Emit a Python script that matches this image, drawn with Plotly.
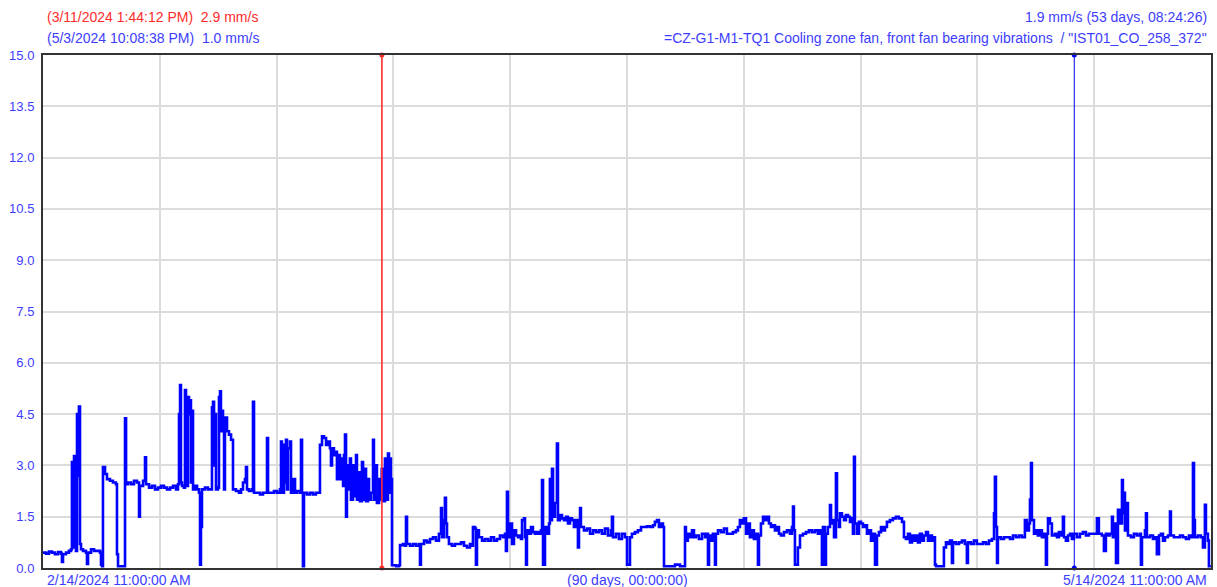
import pandas as pd
import plotly.graph_objects as go

# ---- data -------------------------------------------------------------
start_time = pd.Timestamp("2024-02-14 11:00:00")
span_days = 90
unit = "mm/s"
tag_text = '=CZ-G1-M1-TQ1 Cooling zone fan, front fan bearing vibrations\u00a0 / "IST01_CO_258_372"'

# elapsed time since start_time, in days
elapsed_days = [
    0.00, 0.23, 0.46, 0.69, 0.92, 1.16, 1.39, 1.46, 1.54, 1.77,
    2.00, 2.16, 2.23, 2.31, 2.39, 2.47, 2.54, 2.62, 2.70, 2.77,
    2.85, 2.93, 3.08, 3.31, 3.39, 3.47, 3.70, 3.93, 4.16, 4.39,
    4.47, 4.55, 4.62, 4.78, 4.93, 5.16, 5.39, 5.62, 5.70, 5.78,
    6.24, 6.32, 6.40, 6.55, 6.78, 7.01, 7.24, 7.40, 7.47, 7.71,
    7.86, 7.94, 8.17, 8.40, 8.63, 8.86, 9.09, 9.32, 9.55, 9.79,
    10.02, 10.25, 10.40, 10.48, 10.56, 10.63, 10.71, 10.86, 10.94, 11.02,
    11.17, 11.25, 11.33, 11.40, 11.48, 11.56, 11.71, 11.87, 12.02, 12.10,
    12.17, 12.25, 12.48, 12.71, 12.94, 13.02, 13.10, 13.18, 13.25, 13.33,
    13.48, 13.56, 13.64, 13.71, 13.79, 13.87, 13.95, 14.02, 14.18, 14.33,
    14.49, 14.64, 14.87, 15.10, 15.26, 15.41, 15.56, 15.64, 15.72, 15.87,
    16.10, 16.18, 16.26, 16.49, 16.72, 16.95, 17.18, 17.26, 17.34, 17.57,
    17.80, 18.03, 18.26, 18.34, 18.41, 18.57, 18.65, 18.72, 18.80, 18.88,
    19.03, 19.11, 19.26, 19.42, 19.57, 19.80, 19.88, 19.96, 20.03, 20.11,
    20.34, 20.57, 20.80, 21.03, 21.27, 21.34, 21.50, 21.65, 21.81, 21.96,
    22.11, 22.19, 22.27, 22.42, 22.58, 22.65, 22.73, 22.88, 22.96, 23.12,
    23.19, 23.27, 23.35, 23.42, 23.58, 23.65, 23.73, 23.89, 23.96, 24.12,
    24.19, 24.35, 24.42, 24.58, 24.66, 24.81, 24.89, 25.04, 25.12, 25.27,
    25.43, 25.50, 25.66, 25.73, 25.89, 25.97, 26.10, 26.20, 26.35, 26.43,
    26.58, 26.66, 26.74, 26.81, 26.89, 27.20, 27.43, 27.51, 27.74, 27.89,
    27.97, 28.05, 28.28, 28.51, 28.74, 28.97, 29.05, 29.12, 29.36, 29.59,
    29.82, 30.05, 30.28, 30.51, 30.67, 30.74, 30.90, 30.97, 31.05, 31.13,
    31.28, 31.51, 31.74, 31.98, 32.21, 32.44, 32.67, 32.90, 33.05, 33.13,
    33.29, 33.36, 33.44, 33.59, 33.83, 34.06, 34.29, 34.52, 34.75, 34.98,
    35.21, 35.44, 35.60, 35.67, 35.75, 35.83, 35.98, 36.14, 36.29, 36.45,
    36.60, 36.75, 36.83, 36.91, 37.06, 37.14, 37.22, 37.29, 37.45, 37.60,
    37.75, 37.91, 38.06, 38.22, 38.37, 38.45, 38.53, 38.68, 38.83, 38.99,
    39.06, 39.14, 39.22, 39.30, 39.45, 39.60, 39.68, 39.83, 39.99, 40.14,
    40.30, 40.45, 40.61, 40.76, 40.91, 41.07, 41.22, 41.30, 41.38, 41.45,
    41.68, 41.92, 42.15, 42.38, 42.61, 42.84, 43.07, 43.30, 43.53, 43.76,
    43.84, 43.92, 44.15, 44.38, 44.61, 44.84, 45.00, 45.15, 45.23, 45.38,
    45.61, 45.84, 46.08, 46.31, 46.54, 46.77, 47.00, 47.15, 47.31, 47.46,
    47.62, 47.77, 47.85, 48.31, 48.70, 49.08, 49.31, 49.47, 49.54, 49.69,
    49.85, 50.01, 50.16, 50.31, 50.54, 50.78, 51.01, 51.16, 51.24, 51.32,
    51.47, 51.62, 51.78, 51.85, 52.01, 52.24, 52.47, 52.70, 52.93, 53.16,
    53.40, 53.55, 53.70, 53.86, 54.01, 54.17, 54.32, 54.47, 54.63, 54.78,
    54.94, 55.09, 55.17, 55.32, 55.48, 55.63, 55.78, 55.94, 56.09, 56.25,
    56.40, 56.55, 56.71, 56.86, 57.09, 57.33, 57.56, 57.71, 57.79, 57.86,
    57.94, 58.10, 58.17, 58.33, 58.56, 58.79, 59.02, 59.25, 59.48, 59.71,
    59.87, 60.02, 60.10, 60.25, 60.33, 60.48, 60.64, 60.72, 60.87, 60.95,
    61.10, 61.18, 61.33, 61.41, 61.56, 61.72, 61.87, 62.03, 62.18, 62.33,
    62.41, 62.49, 62.56, 62.72, 62.87, 63.03, 63.18, 63.34, 63.49, 63.64,
    63.80, 63.95, 64.11, 64.26, 64.41, 64.57, 64.72, 64.88, 65.03, 65.26,
    65.49, 65.72, 65.95, 66.19, 66.34, 66.49, 66.65, 66.80, 66.96, 67.11,
    67.27, 67.42, 67.57, 67.73, 67.88, 68.04, 68.19, 68.34, 68.50, 68.65,
    68.73, 68.81, 69.27, 69.42, 69.58, 69.73, 69.89, 70.04, 70.12, 70.35,
    70.58, 70.81, 71.04, 71.19, 71.27, 71.50, 71.73, 71.96, 72.20, 72.43,
    72.66, 72.89, 73.12, 73.28, 73.35, 73.43, 73.51, 73.58, 73.81, 74.05,
    74.28, 74.51, 74.74, 74.97, 75.20, 75.43, 75.66, 75.82, 75.97, 76.05,
    76.13, 76.20, 76.36, 76.51, 76.66, 76.82, 76.97, 77.13, 77.28, 77.36,
    77.44, 77.59, 77.74, 77.97, 78.13, 78.28, 78.44, 78.59, 78.67, 78.82,
    78.98, 79.13, 79.28, 79.44, 79.67, 79.90, 80.13, 80.36, 80.59, 80.83,
    81.06, 81.21, 81.36, 81.59, 81.75, 81.90, 82.06, 82.21, 82.37, 82.44,
    82.60, 82.68, 82.83, 82.98, 83.14, 83.21, 83.29, 83.37, 83.52, 83.60,
    83.83, 84.06, 84.29, 84.52, 84.60, 84.68, 84.91, 84.99, 85.06, 85.30,
    85.53, 85.68, 85.83, 85.99, 86.14, 86.30, 86.45, 86.68, 86.84, 86.91,
    87.14, 87.37, 87.61, 87.84, 88.07, 88.30, 88.45, 88.61, 88.69, 88.76,
    88.99, 89.22, 89.38, 89.53, 89.61, 89.76, 89.84, 89.99,
]

# bearing vibration velocity, mm/s
vibration = [
    0.45, 0.42, 0.48, 0.45, 0.40, 0.47, 0.42, 0.18, 0.40, 0.45,
    0.50, 0.55, 3.10, 0.60, 3.27, 2.70, 0.50, 4.50, 2.70, 4.72,
    0.70, 0.55, 0.50, 0.45, 0.12, 0.45, 0.55, 0.50, 0.50, 0.45,
    0.10, 0.05, 2.95, 2.75, 2.60, 2.55, 2.50, 2.45, 0.40, 0.05,
    0.05, 4.38, 2.45, 2.50, 2.45, 2.55, 2.50, 1.50, 2.40, 2.55,
    3.24, 2.45, 2.35, 2.40, 2.30, 2.35, 2.40, 2.35, 2.30, 2.35,
    2.40, 2.30, 2.45, 4.50, 5.35, 2.50, 2.40, 2.35, 5.20, 2.40,
    5.00, 4.50, 4.90, 2.50, 4.60, 2.30, 2.40, 2.30, 2.20, 0.10,
    1.20, 2.30, 2.35, 2.30, 2.30, 4.70, 4.86, 3.00, 4.50, 2.30,
    2.35, 5.00, 5.17, 4.00, 4.60, 4.20, 2.30, 4.40, 4.00, 3.90,
    3.75, 2.30, 2.25, 2.20, 2.30, 2.50, 2.60, 2.95, 2.30, 2.25,
    2.30, 4.86, 2.20, 2.20, 2.15, 2.20, 2.20, 3.80, 2.20, 2.20,
    2.25, 2.20, 2.30, 3.70, 2.20, 3.60, 2.50, 3.75, 2.30, 3.50,
    3.70, 2.20, 2.60, 2.20, 2.25, 2.20, 3.75, 2.20, 0.05, 2.20,
    2.15, 2.20, 2.15, 2.20, 2.20, 3.60, 3.85, 3.80, 3.60, 3.70,
    3.50, 3.00, 3.50, 3.30, 3.40, 2.60, 3.30, 2.60, 3.20, 2.40,
    3.30, 3.90, 1.50, 3.00, 2.30, 3.20, 2.00, 3.00, 2.10, 3.30,
    2.00, 2.80, 1.95, 3.10, 2.00, 2.90, 1.95, 2.60, 2.00, 2.20,
    3.75, 2.00, 3.00, 1.90, 2.60, 2.00, 2.90, 1.95, 3.20, 2.00,
    3.35, 2.20, 3.20, 2.60, 0.08, 0.05, 0.08, 0.67, 0.70, 0.65,
    1.50, 0.70, 0.65, 0.70, 0.65, 0.70, 0.10, 0.70, 0.80, 0.75,
    0.85, 0.90, 0.80, 1.00, 1.75, 0.90, 1.40, 2.05, 1.30, 0.90,
    0.70, 0.65, 0.70, 0.70, 0.75, 0.65, 0.60, 0.70, 0.65, 1.20,
    1.15, 0.10, 1.10, 0.90, 0.80, 0.85, 0.80, 0.90, 0.80, 0.85,
    0.95, 0.90, 1.00, 0.50, 2.23, 0.90, 1.30, 0.70, 1.10, 0.95,
    0.90, 0.95, 0.85, 1.40, 1.45, 0.90, 0.10, 1.10, 1.00, 1.20,
    1.05, 1.00, 1.05, 1.00, 1.10, 2.57, 0.10, 1.20, 1.00, 1.30,
    2.60, 1.40, 2.90, 1.50, 1.90, 3.64, 1.40, 1.55, 1.45, 1.40,
    1.50, 1.30, 1.45, 1.40, 1.20, 1.40, 0.60, 1.30, 1.75, 1.20,
    1.10, 1.15, 1.00, 1.10, 1.05, 1.10, 1.00, 1.15, 0.95, 1.10,
    1.50, 0.90, 1.00, 0.85, 1.00, 0.90, 0.10, 0.10, 0.90, 1.00,
    1.05, 1.10, 1.20, 1.20, 1.22, 1.20, 1.25, 1.35, 1.40, 1.20,
    1.30, 1.20, 0.05, 0.05, 0.10, 0.05, 0.05, 1.20, 0.80, 1.00,
    0.90, 1.10, 0.90, 0.95, 0.85, 1.00, 0.90, 1.00, 0.10, 0.95,
    0.80, 1.00, 0.10, 1.00, 1.10, 1.05, 1.15, 1.00, 1.00, 1.05,
    1.10, 1.20, 1.40, 1.30, 1.45, 1.00, 1.30, 0.90, 1.10, 0.85,
    1.00, 0.10, 0.95, 1.30, 1.50, 1.40, 1.50, 1.30, 1.20, 1.25,
    1.10, 1.20, 1.00, 0.95, 1.05, 1.10, 1.00, 1.20, 1.80, 1.10,
    0.10, 0.10, 0.60, 0.95, 1.00, 1.05, 1.10, 1.05, 1.10, 1.00,
    1.10, 0.10, 1.20, 0.10, 1.00, 1.20, 1.84, 1.30, 1.40, 0.90,
    2.77, 1.40, 1.20, 1.60, 1.50, 1.40, 1.55, 1.50, 1.35, 1.45,
    1.00, 3.25, 1.30, 1.00, 1.35, 1.30, 1.20, 1.25, 1.00, 1.10,
    0.80, 1.00, 0.10, 0.95, 1.05, 1.20, 1.10, 1.20, 1.35, 1.40,
    1.45, 1.50, 1.45, 1.35, 0.90, 0.85, 1.00, 0.75, 0.95, 0.80,
    0.95, 0.75, 1.00, 0.80, 0.95, 1.05, 0.80, 0.95, 0.80, 0.90,
    0.10, 0.05, 0.05, 0.60, 0.75, 0.70, 0.80, 0.15, 0.75, 0.70,
    0.75, 0.80, 0.70, 0.15, 0.75, 0.70, 0.80, 0.70, 0.70, 0.75,
    0.70, 0.80, 0.85, 1.60, 2.67, 1.20, 0.15, 0.90, 0.85, 0.90,
    0.90, 0.85, 0.95, 0.90, 0.95, 0.90, 1.40, 1.10, 1.30, 2.00,
    3.07, 1.40, 1.00, 1.10, 0.95, 1.10, 0.90, 1.00, 0.10, 1.00,
    1.45, 1.30, 0.95, 1.00, 0.90, 1.05, 0.95, 1.50, 0.90, 0.80,
    0.95, 1.00, 0.85, 1.00, 0.90, 1.00, 1.05, 0.95, 1.00, 1.00,
    1.00, 1.45, 1.00, 0.95, 0.50, 1.00, 0.95, 1.00, 1.50, 0.90,
    1.30, 0.15, 1.70, 1.30, 2.57, 1.60, 2.20, 1.10, 1.90, 0.95,
    0.90, 1.00, 0.95, 1.00, 0.10, 0.90, 1.10, 1.60, 0.90, 0.95,
    0.85, 0.90, 0.40, 0.95, 1.00, 0.80, 0.90, 0.95, 1.65, 0.95,
    0.90, 0.90, 0.95, 0.90, 0.85, 0.95, 0.90, 3.07, 1.40, 0.90,
    0.95, 0.90, 0.60, 1.85, 1.00, 0.80, 0.05, 0.05,
]

# two measurement cursors: (time, value read at that time)
cursor_a_time = pd.Timestamp("2024-03-11 13:44:12")
cursor_a_value = 2.9
cursor_b_time = pd.Timestamp("2024-05-03 22:08:38")
cursor_b_value = 1.0

y_ticks = [0.0, 1.5, 3.0, 4.5, 6.0, 7.5, 9.0, 10.5, 12.0, 13.5, 15.0]
grid_step_days = 9

assert len(elapsed_days) == len(vibration)

# ---- helpers ----------------------------------------------------------
def fmt_stamp(t):
    hour12 = t.hour % 12 or 12
    ampm = "AM" if t.hour < 12 else "PM"
    return f"{t.month}/{t.day}/{t.year} {hour12}:{t.minute:02d}:{t.second:02d} {ampm}"


def fmt_span(delta):
    secs = int(delta.total_seconds())
    days, rem = divmod(secs, 86400)
    h, rem = divmod(rem, 3600)
    m, s = divmod(rem, 60)
    return f"{days} days, {h:02d}:{m:02d}:{s:02d}"


end_time = start_time + pd.Timedelta(days=span_days)
times = start_time + pd.to_timedelta(elapsed_days, unit="D")

RED = "#ff2b2b"
BLUE = "#0000ff"
TXT_BLUE = "#3d3dff"
FONT = "Liberation Sans, Arial, sans-serif"
NBSP = "\u00a0"

fig = go.Figure()

# measured signal
fig.add_trace(go.Scatter(
    x=times, y=vibration, mode="lines", line_shape="hv",
    line=dict(color=BLUE, width=2.6), hoverinfo="x+y",
))

# cursor lines with end dots
fig.add_trace(go.Scatter(
    x=[cursor_a_time, cursor_a_time], y=[y_ticks[0], y_ticks[-1]],
    mode="lines+markers", line=dict(color=RED, width=1.6),
    marker=dict(color=RED, size=5), cliponaxis=False, hoverinfo="skip",
))
fig.add_trace(go.Scatter(
    x=[cursor_b_time, cursor_b_time], y=[y_ticks[0], y_ticks[-1]],
    mode="lines+markers", line=dict(color=BLUE, width=1),
    marker=dict(color=BLUE, size=5), cliponaxis=False, hoverinfo="skip",
))

annos = [
    dict(text=f"({fmt_stamp(cursor_a_time)}){NBSP}{NBSP}{cursor_a_value:.1f} {unit}",
         x=0, y=1, xanchor="left", yanchor="middle", xshift=2, yshift=38, color=RED),
    dict(text=f"({fmt_stamp(cursor_b_time)}){NBSP}{NBSP}{cursor_b_value:.1f} {unit}",
         x=0, y=1, xanchor="left", yanchor="middle", xshift=2, yshift=17, color=TXT_BLUE),
    dict(text=f"{cursor_a_value - cursor_b_value:.1f} {unit} ({fmt_span(cursor_b_time - cursor_a_time)})",
         x=1, y=1, xanchor="right", yanchor="middle", xshift=-2, yshift=38, color=TXT_BLUE),
    dict(text=tag_text,
         x=1, y=1, xanchor="right", yanchor="middle", xshift=-2, yshift=17, color=TXT_BLUE),
    dict(text=fmt_stamp(start_time),
         x=0, y=0, xanchor="left", yanchor="middle", xshift=2, yshift=-12, color=TXT_BLUE),
    dict(text=f"({fmt_span(end_time - start_time)})",
         x=0.5, y=0, xanchor="center", yanchor="middle", xshift=0, yshift=-12, color=TXT_BLUE),
    dict(text=fmt_stamp(end_time),
         x=1, y=0, xanchor="right", yanchor="middle", xshift=-2, yshift=-12, color=TXT_BLUE),
]
for a in annos:
    fig.add_annotation(
        text=a["text"], xref="paper", yref="paper", x=a["x"], y=a["y"],
        xanchor=a["xanchor"], yanchor=a["yanchor"], xshift=a["xshift"], yshift=a["yshift"],
        showarrow=False, font=dict(family=FONT, size=14, color=a["color"]),
    )

fig.update_layout(
    width=1217, height=587,
    margin=dict(l=43, r=4, t=55, b=19),
    paper_bgcolor="white", plot_bgcolor="white",
    showlegend=False,
    font=dict(family=FONT, size=13, color=TXT_BLUE),
)
fig.update_xaxes(
    type="date", range=[start_time, end_time],
    tick0=start_time, dtick=grid_step_days * 86400000,
    showticklabels=False, ticks="",
    showgrid=True, gridcolor="#dcdcdc", gridwidth=1.5,
    showline=True, linecolor="#333333", linewidth=2, mirror=True,
    zeroline=False,
)
fig.update_yaxes(
    range=[y_ticks[0], y_ticks[-1]],
    tickmode="array", tickvals=y_ticks, ticktext=[f"{v:.1f}" for v in y_ticks],
    ticks="outside", ticklen=4, tickcolor="rgba(0,0,0,0)",
    tickfont=dict(family=FONT, size=13, color=TXT_BLUE),
    showgrid=True, gridcolor="#dcdcdc", gridwidth=1.5,
    showline=True, linecolor="#333333", linewidth=2, mirror=True,
    zeroline=False,
)

fig.write_html("out.html")
